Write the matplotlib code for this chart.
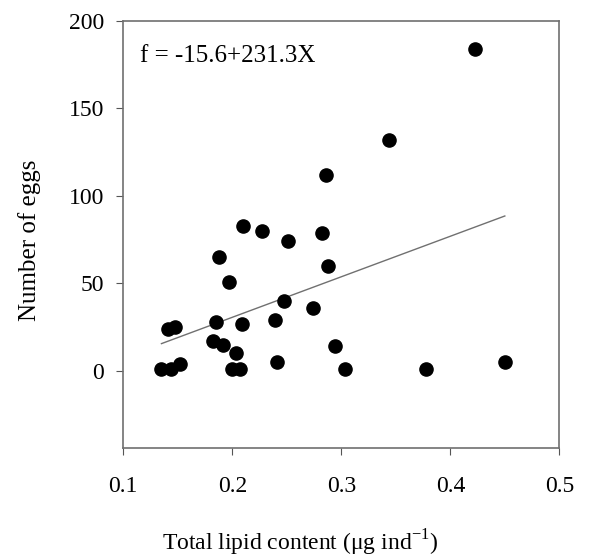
import numpy as np
import matplotlib.pyplot as plt

plt.rcParams['font.family'] = 'Liberation Serif'
plt.rcParams['mathtext.fontset'] = 'custom'
plt.rcParams['mathtext.rm'] = 'Liberation Serif'

# Data
lipid = [0.210, 0.227, 0.251, 0.282, 0.188, 0.288, 0.197, 0.247, 0.274,
         0.141, 0.147, 0.185, 0.209, 0.239, 0.182, 0.191, 0.294, 0.203,
         0.241, 0.450, 0.152, 0.135, 0.144, 0.1995, 0.207, 0.303, 0.378,
         0.423, 0.344, 0.286]
eggs = [83, 80, 74, 79, 65, 60, 51, 40, 36,
        24, 25, 28, 27, 29, 17, 15, 14, 10,
        5, 5, 4, 1, 1, 1, 1, 1, 1,
        184, 132, 112]

intercept = -15.6
slope = 231.3

fig = plt.figure(figsize=(5.9, 5.58), dpi=100)
ax = fig.add_axes([0.209, 0.197, 0.739, 0.766])

ax.scatter(lipid, eggs, s=90, color='black', zorder=3)

xfit = np.array([min(lipid), max(lipid)])
ax.plot(xfit, intercept + slope * xfit, color='#707070', lw=1)

ax.set_xlim(0.1, 0.5)
ax.set_ylim(-44, 200)
ax.set_xticks([0.1, 0.2, 0.3, 0.4, 0.5])
ax.set_yticks([0, 50, 100, 150, 200])
ax.tick_params(direction='out', length=5, color='#555555', labelsize=17)
ax.tick_params(axis='x', pad=15)
ax.tick_params(axis='y', pad=9)
for sp in ax.spines.values():
    sp.set_color('#707070')
    sp.set_linewidth(1.2)

ax.text(0.038, 0.903, 'f = -15.6+231.3X', transform=ax.transAxes, fontsize=18,
        va='baseline')

ax.set_xlabel(r'Total lipid content (μg ind$^{\mathregular{-1}}$)', fontsize=17, labelpad=22)
ax.set_ylabel('Number of eggs', fontsize=18, labelpad=20)
ax.xaxis.label.set_x(0.405)
ax.yaxis.label.set_y(0.487)

fig.savefig('out.png', dpi=100)
